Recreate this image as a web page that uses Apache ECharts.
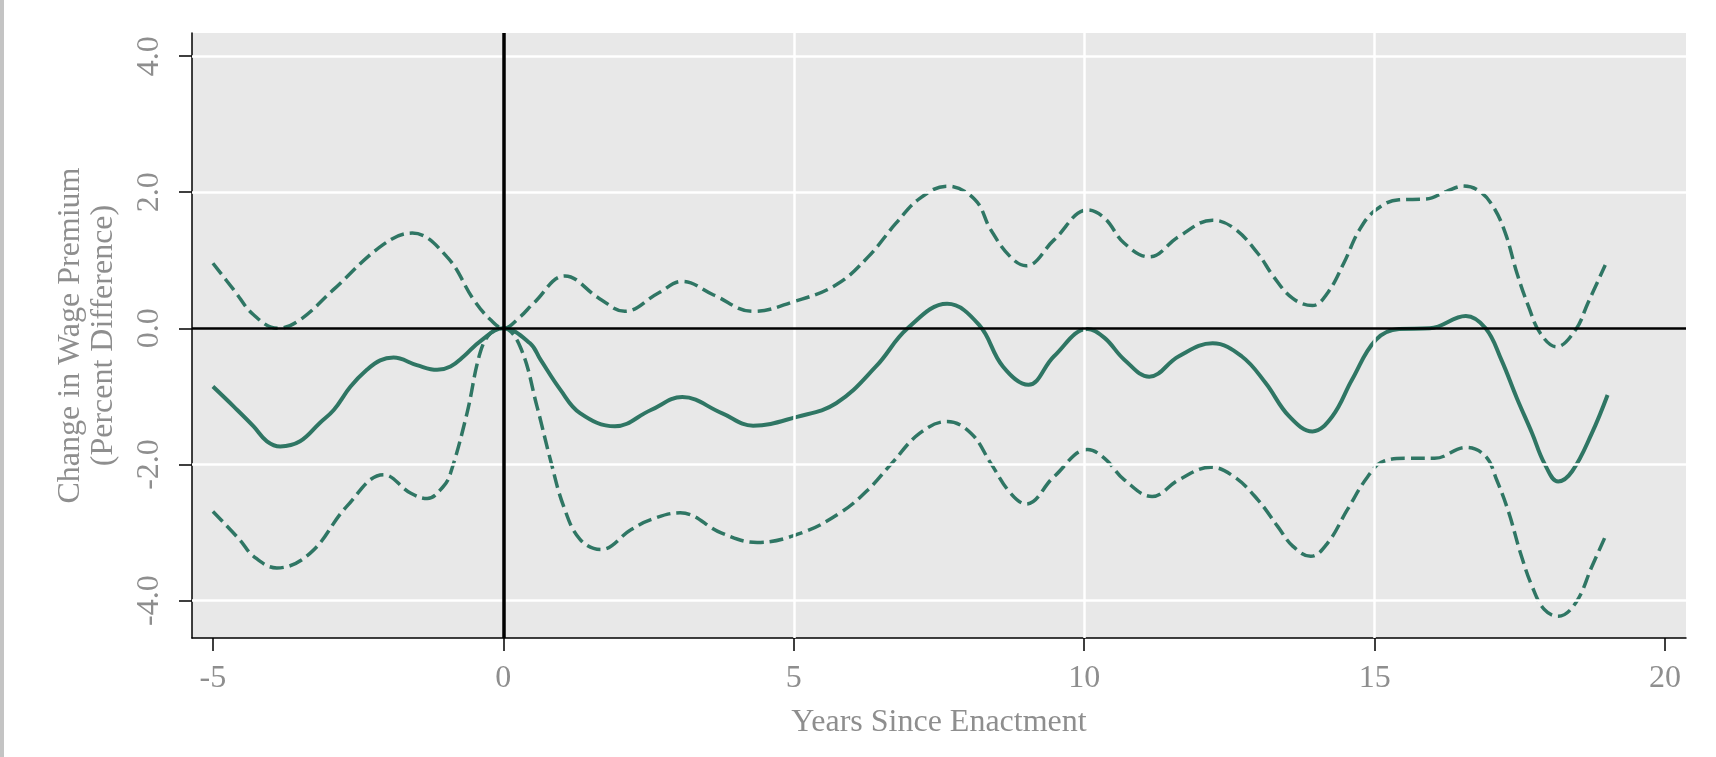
<!DOCTYPE html>
<html>
<head>
<meta charset="utf-8">
<script src="https://cdn.jsdelivr.net/npm/echarts@6/dist/echarts.min.js"></script>
<style>
html,body{margin:0;padding:0;background:#fff;}
#chart{width:1716px;height:757px;}
</style>
</head>
<body>
<div id="chart"></div>
<script>
// ---- data ----
var xTicks = [-5, 0, 5, 10, 15, 20];
var yTicks = [-4, -2, 0, 2, 4];
var xGrid = [5, 10, 15];
var yGrid = [-4, -2, 2, 4];

var estYears = [-5, -4.64, -4.30, -4.07, -3.84, -3.50, -3.16, -2.92, -2.63, -2.35, -2.12, -1.89, -1.49, -1.14, -0.91, -0.68, -0.40, 0,
  0.46, 0.64, 0.98, 1.32, 1.92, 2.54, 3.08, 3.76, 4.30, 5.055, 5.73, 6.415, 6.96, 7.64, 8.19, 8.60, 9.04, 9.48, 10.06, 10.35, 10.69,
  11.12, 11.63, 12.21, 12.71, 13.12, 13.53, 13.93, 14.27, 14.61, 15.02, 15.42, 15.95, 16.57, 16.91, 17.18, 17.45, 17.71, 17.92, 18.16, 18.40, 18.74, 19.01];
var estValues = [-0.855, -1.15, -1.44, -1.66, -1.735, -1.66, -1.39, -1.20, -0.855, -0.61, -0.47, -0.43, -0.54, -0.61, -0.56, -0.41, -0.19, 0,
  -0.22, -0.46, -0.90, -1.245, -1.44, -1.20, -1.01, -1.245, -1.43, -1.30, -1.10, -0.56, 0, 0.36, 0.05, -0.56, -0.83, -0.41, -0.01, -0.14, -0.46,
  -0.71, -0.41, -0.22, -0.41, -0.80, -1.295, -1.515, -1.295, -0.756, -0.17, -0.01, 0, 0.18, 0, -0.46, -1.03, -1.54, -1.98, -2.25, -2.10, -1.54, -0.98];

var upperYears = [-5, -4.64, -4.30, -3.88, -3.50, -2.93, -2.07, -1.57, -0.97, -0.51, -0.22, 0,
  0.29, 0.52, 1.06, 1.65, 2.09, 2.67, 3.08, 3.62, 4.30, 4.99, 5.73, 6.28, 6.76, 7.17, 7.64, 8.12, 8.39, 8.73, 9.00, 9.48, 10.06, 10.35, 10.69,
  11.12, 11.63, 12.21, 12.58, 12.99, 13.26, 13.59, 13.93, 14.19, 14.47, 14.74, 15.02, 15.42, 15.89, 16.23, 16.54, 16.81, 17.04, 17.25, 17.45, 17.65, 17.85, 18.13, 18.46, 18.67, 18.97];
var upperValues = [0.957, 0.565, 0.20, 0.0, 0.125, 0.565, 1.23, 1.40, 1.05, 0.42, 0.125, 0,
  0.17, 0.37, 0.77, 0.44, 0.25, 0.52, 0.69, 0.49, 0.25, 0.39, 0.64, 1.05, 1.545, 1.91, 2.09, 1.89, 1.45, 1.05, 0.92, 1.30, 1.74, 1.62, 1.25,
  1.05, 1.35, 1.59, 1.47, 1.10, 0.76, 0.44, 0.335, 0.52, 0.96, 1.45, 1.74, 1.89, 1.90, 2.01, 2.09, 2.01, 1.79, 1.40, 0.81, 0.32, -0.07, -0.27, -0.02, 0.37, 0.93];

var lowerYears = [-5, -4.54, -4.30, -3.90, -3.32, -2.70, -2.06, -1.60, -1.31, -1.03, -0.91, -0.625, -0.40, -0.22, 0,
  0.29, 0.58, 0.81, 1.04, 1.32, 1.68, 2.195, 2.54, 3.045, 3.76, 4.37, 5.12, 5.80, 6.28, 6.69, 7.17, 7.64, 8.05, 8.39, 8.73, 9.00, 9.48, 10.06, 10.35, 10.69,
  11.17, 11.63, 12.18, 12.58, 12.99, 13.33, 13.59, 13.90, 14.19, 14.53, 14.88, 15.15, 15.56, 16.03, 16.57, 16.91, 17.10, 17.31, 17.51, 17.71, 17.92, 18.16, 18.46, 18.74, 18.97];
var lowerValues = [-2.69, -3.105, -3.35, -3.52, -3.30, -2.62, -2.15, -2.42, -2.50, -2.32, -2.13, -1.245, -0.36, -0.07, 0,
  -0.27, -1.15, -1.93, -2.62, -3.10, -3.25, -2.96, -2.81, -2.71, -3.01, -3.145, -3.01, -2.71, -2.37, -1.98, -1.54, -1.37, -1.54, -1.98, -2.42, -2.58, -2.18, -1.78, -1.91, -2.225,
  -2.47, -2.225, -2.04, -2.18, -2.52, -2.91, -3.20, -3.35, -3.155, -2.665, -2.18, -1.955, -1.91, -1.91, -1.75, -1.88, -2.225, -2.71, -3.30, -3.79, -4.13, -4.23, -4.035, -3.50, -3.06];

function pairs(xs, ys) { return xs.map(function (x, i) { return [x, ys[i]]; }); }

var GREEN = '#2f7664';
var GRAY_TEXT = '#8e8e8e';
var FONT = '"Liberation Serif", "Times New Roman", serif';

var chart = echarts.init(document.getElementById('chart'), null, {renderer: 'canvas'});
chart.setOption({
  animation: false,
  backgroundColor: '#ffffff',
  graphic: [{
    type: 'rect', left: 0, top: 0, shape: {x: 0, y: 0, width: 4, height: 757},
    style: {fill: '#c4c4c4'}, silent: true
  }],
  grid: {
    left: 192, right: 30, top: 33, bottom: 119,
    show: true, backgroundColor: '#e8e8e8', borderWidth: 0
  },
  xAxis: {
    type: 'value', min: -5.36, max: 20.36,
    axisLine: {show: true, onZero: false, lineStyle: {color: '#000', width: 1.5}},
    axisTick: {show: true, customValues: xTicks, length: 13, lineStyle: {color: '#000', width: 1.5}},
    axisLabel: {customValues: xTicks, color: GRAY_TEXT, fontFamily: FONT, fontSize: 32, margin: 25},
    splitLine: {show: false},
    name: 'Years Since Enactment', nameLocation: 'middle', nameGap: 69,
    nameTextStyle: {color: GRAY_TEXT, fontFamily: FONT, fontSize: 32}
  },
  yAxis: {
    type: 'value', min: -4.55, max: 4.34,
    axisLine: {show: true, onZero: false, lineStyle: {color: '#000', width: 1.5}},
    axisTick: {show: true, customValues: yTicks, length: 13, lineStyle: {color: '#000', width: 1.5}},
    axisLabel: {customValues: yTicks, rotate: 90, color: GRAY_TEXT, fontFamily: FONT, fontSize: 32, margin: 26,
      formatter: function (v) { return Number(v).toFixed(1); }},
    splitLine: {show: false},
    name: 'Change in Wage Premium\n(Percent Difference)', nameLocation: 'middle', nameRotate: 90, nameGap: 72,
    nameTextStyle: {color: GRAY_TEXT, fontFamily: FONT, fontSize: 32, lineHeight: 33, align: 'center'}
  },
  series: [
    {
      type: 'line', data: [], z: 1, silent: true,
      markLine: {
        silent: true, symbol: 'none', label: {show: false}, animation: false,
        lineStyle: {color: '#ffffff', width: 2.5, type: 'solid'},
        data: xGrid.map(function (v) { return {xAxis: v}; }).concat(yGrid.map(function (v) { return {yAxis: v}; }))
      }
    },
    {
      type: 'line', data: [], z: 2, silent: true,
      markLine: {
        silent: true, symbol: 'none', label: {show: false}, animation: false,
        data: [
          {xAxis: 0, lineStyle: {color: '#000', width: 3.5, type: 'solid'}},
          {yAxis: 0, lineStyle: {color: '#000', width: 2.5, type: 'solid'}}
        ]
      }
    },
    {
      name: 'Estimate', type: 'line', z: 3, data: pairs(estYears, estValues),
      smooth: 0.4, showSymbol: false, symbol: 'none',
      lineStyle: {color: GREEN, width: 4, type: 'solid'}
    },
    {
      name: 'Upper', type: 'line', z: 3, data: pairs(upperYears, upperValues),
      smooth: 0.4, showSymbol: false, symbol: 'none',
      lineStyle: {color: GREEN, width: 3.5, type: [14, 6]}
    },
    {
      name: 'Lower', type: 'line', z: 3, data: pairs(lowerYears, lowerValues),
      smooth: 0.4, showSymbol: false, symbol: 'none',
      lineStyle: {color: GREEN, width: 3.5, type: [14, 6]}
    }
  ]
});
</script>
</body>
</html>
